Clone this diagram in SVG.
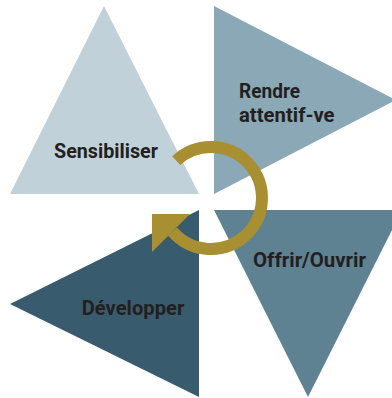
<svg xmlns="http://www.w3.org/2000/svg" width="392" height="398" viewBox="0 0 392 398">
  <style>
    .lbl { font-family: Roboto, "Liberation Sans", sans-serif; font-weight: 700; font-size: 20.5px; fill: #231f20; }
    .cycle { fill: none; stroke: #a88f32; stroke-width: 12; stroke-linecap: butt; }
    .head { fill: #a88f32; }
  </style>
  <rect width="392" height="398" fill="#ffffff"/>
  <g id="node-sensibiliser">
    <polygon points="104,6 199,194 10,194" fill="#c1d1da"/>
    <text class="lbl" x="54" y="157.5" textLength="104" lengthAdjust="spacingAndGlyphs">Sensibiliser</text>
  </g>
  <g id="node-rendre-attentif">
    <polygon points="214,6 396,100 214,194" fill="#8aa8b5"/>
    <text class="lbl" x="239" y="97.5" textLength="61" lengthAdjust="spacingAndGlyphs">Rendre</text>
    <text class="lbl" x="239" y="121.5" textLength="95.5" lengthAdjust="spacingAndGlyphs">attentif-ve</text>
  </g>
  <g id="node-offrir-ouvrir">
    <polygon points="214,210 402,210 308,397" fill="#5f8292"/>
    <text class="lbl" x="253" y="266.5" textLength="113" lengthAdjust="spacingAndGlyphs">Offrir/Ouvrir</text>
  </g>
  <g id="node-developper">
    <polygon points="199,210 199,397 10,304" fill="#385c6e"/>
    <text class="lbl" x="81.7" y="315" textLength="102.6" lengthAdjust="spacingAndGlyphs">Développer</text>
  </g>
  <g id="connectors">
    <path class="cycle" d="M 176.2 160.7 A 51 51 0 1 1 172.5 231.5"/>
    <polygon class="head" points="152,214 190,214 152,252"/>
  </g>
</svg>
